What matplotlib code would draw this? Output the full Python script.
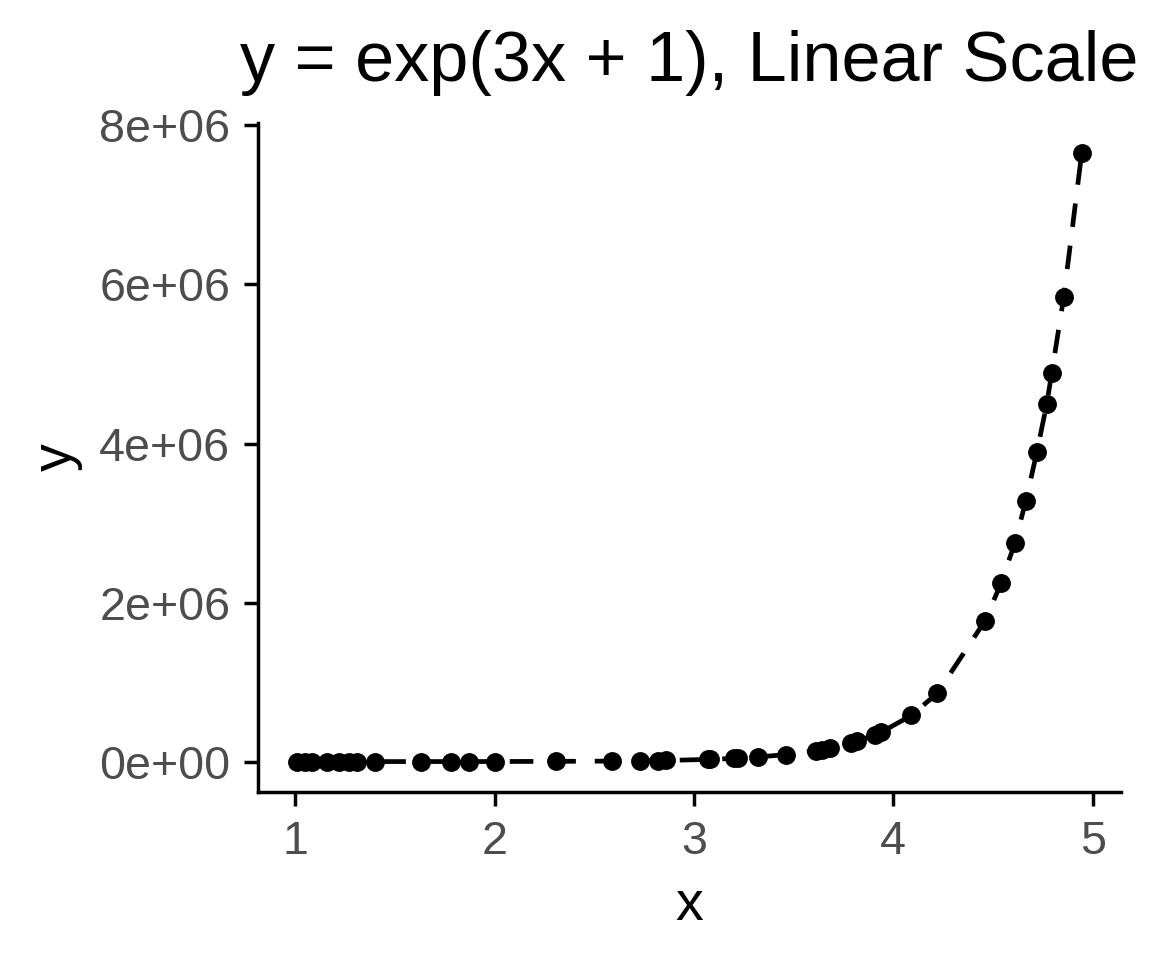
import numpy as np
import matplotlib
matplotlib.use("Agg")
from matplotlib import pyplot as plt
from matplotlib.ticker import FuncFormatter

# points
x_vals = [1.01, 1.05, 1.085, 1.16, 1.22, 1.27, 1.31, 1.40, 1.63, 1.78, 1.87, 2.00,
          2.31, 2.59, 2.73, 2.82, 2.86, 3.07, 3.08, 3.20, 3.22, 3.32, 3.46, 3.61,
          3.64, 3.68, 3.79, 3.82, 3.91, 3.94, 4.09, 4.22, 4.46, 4.54, 4.61, 4.665,
          4.72, 4.77, 4.795, 4.855, 4.945]
y_vals = [56, 63, 70, 88, 106, 123, 138, 181, 361, 567, 742, 1097,
          2780, 6440, 9800, 12840, 14480, 27200, 28000, 40100, 42600, 57500, 87600, 137000,
          150000, 169000, 236000, 258000, 338000, 370000, 580000, 857000, 1.77e6, 2.24e6, 2.75e6, 3.28e6,
          3.89e6, 4.50e6, 4.89e6, 5.84e6, 7.65e6]
x_ticks = [1, 2, 3, 4, 5]
y_ticks = [0, 2e6, 4e6, 6e6, 8e6]

plt.rcParams['font.family'] = ['Liberation Sans', 'DejaVu Sans']

fig = plt.figure(figsize=(5.76, 4.8), dpi=200)
ax = fig.add_axes([0.224, 0.175, 0.749, 0.697])

ax.plot(x_vals, y_vals, color="black", linewidth=1.7, linestyle=(0, (5, 4)), zorder=2)
ax.scatter(x_vals, y_vals, s=46, color="black", zorder=3, linewidths=0)

ax.margins(x=0.05, y=0.05)
ax.set_xticks(x_ticks)
ax.set_yticks(y_ticks)
ax.yaxis.set_major_formatter(FuncFormatter(lambda v, p: "%.0e" % v))

for side in ["top", "right"]:
    ax.spines[side].set_visible(False)
for side in ["left", "bottom"]:
    ax.spines[side].set_linewidth(1.25)
ax.tick_params(axis="both", length=5, width=1.25, labelsize=16.8, labelcolor="#4D4D4D", pad=5)

ax.set_xlabel("x", fontsize=20, labelpad=6)
ax.set_ylabel("y", fontsize=20, labelpad=6)
ax.set_title("y = exp(3x + 1), Linear Scale", fontsize=25.3, pad=15)

fig.savefig("out.png", dpi=200)
